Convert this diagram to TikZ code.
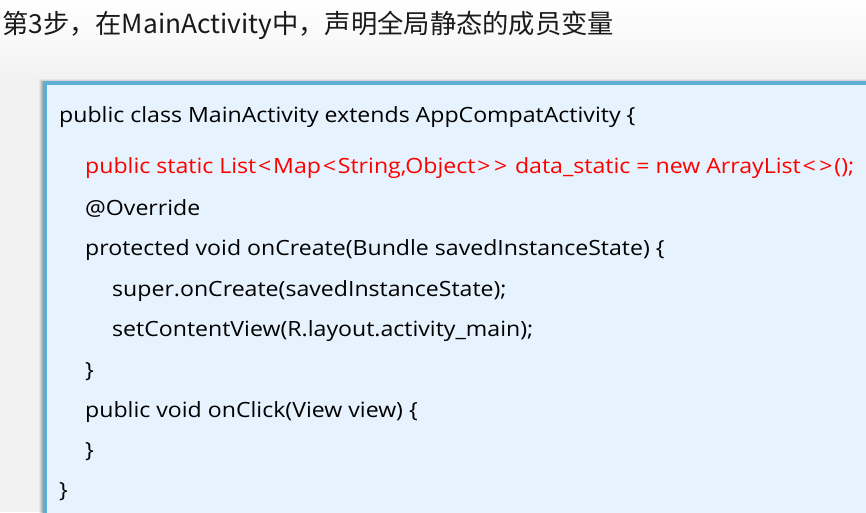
\documentclass[tikz,border=0pt]{standalone}
\usepackage{fontspec}
\setmainfont{Noto Sans CJK SC}
\newfontfamily\codefont[FakeStretch=1.1]{Open Sans}
\definecolor{bgc}{HTML}{F2F2F2}
\definecolor{boxfill}{HTML}{E6F2FD}
\definecolor{boxline}{HTML}{5DADD5}
\definecolor{titlec}{HTML}{1A1A1A}
\definecolor{codered}{HTML}{FF0000}
\newcommand{\lt}{\kern1.8pt<\kern1.8pt}
\newcommand{\gt}{\kern1.8pt>\kern1.8pt}
\tikzset{
  codeline/.style={anchor=base west, inner sep=0pt, font=\codefont\fontsize{21}{21}\selectfont, text=black},
  redline/.style={codeline, text=codered},
  titletext/.style={anchor=base west, inner sep=0pt, font=\fontsize{26.3}{26.3}\selectfont, text=titlec},
}
\begin{document}
\begin{tikzpicture}[x=1pt,y=-1pt]
\useasboundingbox (0,0) rectangle (866,512);
\shade[top color=white, bottom color=bgc] (0,0) rectangle (866,80);
\fill[bgc] (0,80) rectangle (866,512);
% shadow
\foreach \d/\o in {6/0.05,5/0.07,4/0.08,3/0.10,2/0.12,1/0.14}{
  \fill[black,opacity=\o] (45-\d,83-\d*0.6) rectangle (870,520);
}
% box
\draw[boxline, line width=4pt, fill=boxfill] (45,83) rectangle (880,530);
\node[titletext] (title) at (2,33) {第3步，在MainActivity中，声明全局静态的成员变量};
\node[codeline] (l1) at (59,122) {public class MainActivity extends AppCompatActivity \{};
\node[redline] (l2) at (85,173) {public static List\lt Map\lt String,Object\gt\gt{} data\_static = new ArrayList\lt\gt();};
\node[codeline] (l3) at (85,215) {@Override};
\node[codeline] (l4) at (85,255) {protected void onCreate(Bundle savedInstanceState) \{};
\node[codeline] (l5) at (112,296) {super.onCreate(savedInstanceState);};
\node[codeline] (l6) at (112,336) {setContentView(R.layout.activity\_main);};
\node[codeline] (l7) at (85,377) {\}};
\node[codeline] (l8) at (85,417) {public void onClick(View view) \{};
\node[codeline] (l9) at (85,457) {\}};
\node[codeline] (l10) at (59,497) {\}};
\end{tikzpicture}
\end{document}
